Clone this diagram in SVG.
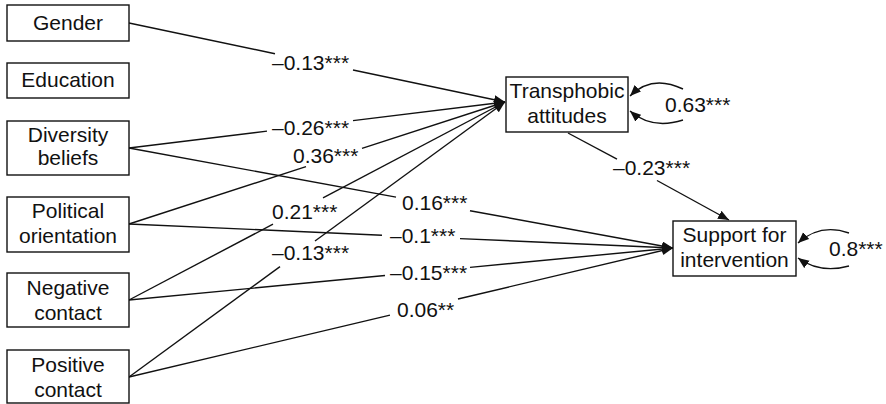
<svg xmlns="http://www.w3.org/2000/svg" width="886" height="404" viewBox="0 0 886 404">
<style>
.box{fill:#fff;stroke:#111;stroke-width:1.4}
.t{font-family:"Liberation Sans",Arial,sans-serif;font-size:21px;fill:#111}
.c{text-anchor:middle}
.ln{fill:none;stroke:#111;stroke-width:1.4}
</style>
<defs>
<marker id="ah" markerUnits="userSpaceOnUse" markerWidth="12" markerHeight="10" refX="11" refY="4.5" orient="auto">
<path d="M0,0 L11,4.5 L0,9 z" fill="#111"/>
</marker>
</defs>
<g id="connectors">
<!-- to Transphobic attitudes -->
<path class="ln" d="M129,23 L275,53.7"/>
<path class="ln" d="M353,70 L505,102" marker-end="url(#ah)"/>
<path class="ln" d="M129,148 L267,131.1"/>
<path class="ln" d="M353,120.6 L505,102" marker-end="url(#ah)"/>
<path class="ln" d="M129,224 L306,166.6"/>
<path class="ln" d="M362,148.4 L505,102" marker-end="url(#ah)"/>
<path class="ln" d="M129,300 L273,224.2"/>
<path class="ln" d="M323,197.8 L505,102" marker-end="url(#ah)"/>
<path class="ln" d="M129,377 L280,266.6"/>
<path class="ln" d="M315,241 L505,102" marker-end="url(#ah)"/>
<!-- to Support for intervention -->
<path class="ln" d="M129,148 L396,197.1"/>
<path class="ln" d="M470,210.7 L673,248" marker-end="url(#ah)"/>
<path class="ln" d="M129,224 L382,235.2"/>
<path class="ln" d="M460,238.6 L673,248" marker-end="url(#ah)"/>
<path class="ln" d="M129,300 L385,275.5"/>
<path class="ln" d="M470,267.4 L673,248" marker-end="url(#ah)"/>
<path class="ln" d="M129,377 L390,315.1"/>
<path class="ln" d="M458,299 L673,248" marker-end="url(#ah)"/>
<!-- Transphobic to Support -->
<path class="ln" d="M568,133 L617,159.2"/>
<path class="ln" d="M657,180.5 L729,220" marker-end="url(#ah)"/>
<!-- variances -->
<path class="ln" d="M683,89 Q652,74 630,96" marker-end="url(#ah)"/>
<path class="ln" d="M683,120 Q652,130 630,111" marker-end="url(#ah)"/>
<path class="ln" d="M849,233 Q820,223 798,243" marker-end="url(#ah)"/>
<path class="ln" d="M849,266 Q820,274 798,258" marker-end="url(#ah)"/>
</g>
<g id="labels">
<text class="t" x="272" y="70">–0.13***</text>
<text class="t" x="272" y="135">–0.26***</text>
<text class="t" x="293" y="163">0.36***</text>
<text class="t" x="272" y="219">0.21***</text>
<text class="t" x="272" y="260">–0.13***</text>
<text class="t" x="402" y="210">0.16***</text>
<text class="t" x="390" y="243">–0.1***</text>
<text class="t" x="390" y="280">–0.15***</text>
<text class="t" x="397" y="317">0.06**</text>
<text class="t" x="613" y="175">–0.23***</text>
<text class="t" x="665" y="112">0.63***</text>
<text class="t" x="829" y="256">0.8***</text>
</g>
<g id="gender"><rect class="box" x="7" y="5" width="122" height="36"/><text class="t c" x="68" y="30">Gender</text></g>
<g id="education"><rect class="box" x="7" y="63" width="122" height="35"/><text class="t c" x="68" y="87">Education</text></g>
<g id="diversity"><rect class="box" x="7" y="121" width="122" height="54"/><text class="t c" x="68" y="142">Diversity</text><text class="t c" x="68" y="165">beliefs</text></g>
<g id="political"><rect class="box" x="7" y="197" width="122" height="55"/><text class="t c" x="68" y="218">Political</text><text class="t c" x="68" y="243">orientation</text></g>
<g id="negative"><rect class="box" x="7" y="273" width="122" height="54"/><text class="t c" x="68" y="295">Negative</text><text class="t c" x="68" y="320">contact</text></g>
<g id="positive"><rect class="box" x="7" y="350" width="122" height="53"/><text class="t c" x="68" y="372">Positive</text><text class="t c" x="68" y="397">contact</text></g>
<g id="transphobic"><rect class="box" x="506" y="77" width="122" height="55"/><text class="t c" x="567" y="98">Transphobic</text><text class="t c" x="567" y="123">attitudes</text></g>
<g id="support"><rect class="box" x="673" y="221" width="123" height="55"/><text class="t c" x="734.5" y="242">Support for</text><text class="t c" x="734.5" y="267">intervention</text></g>
</svg>
